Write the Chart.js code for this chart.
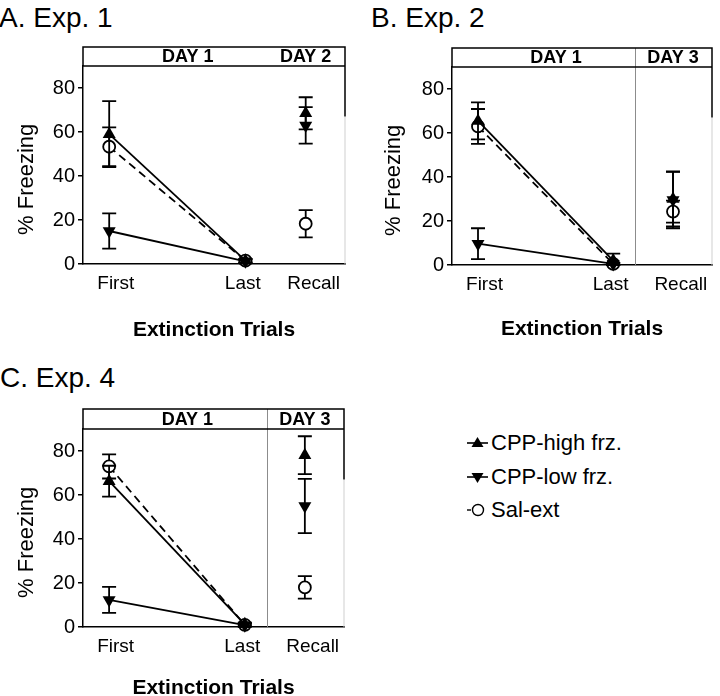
<!DOCTYPE html>
<html>
<head>
<meta charset="utf-8">
<script src="https://cdn.jsdelivr.net/npm/chart.js@4/dist/chart.umd.min.js"></script>
<style>
  html, body { margin: 0; padding: 0; background: #fff; }
  body { width: 720px; height: 696px; position: relative; overflow: hidden;
         font-family: "Liberation Sans", Arial, sans-serif; color: #000; }
  canvas { position: absolute; }
  .ptitle { position: absolute; font-size: 28px; line-height: 28px; white-space: nowrap; }
  .lrow { position: absolute; left: 466px; height: 22px; display: flex; align-items: flex-start;
          font-size: 22px; line-height: 22px; white-space: nowrap; }
  .lrow svg { width: 24px; height: 22px; margin-right: 1px; }
</style>
</head>
<body>
<div class="ptitle" style="left:-1px; top:4px;">A. Exp. 1</div>
<div class="ptitle" style="left:371px; top:4px;">B. Exp. 2</div>
<div class="ptitle" style="left:0px; top:364px;">C. Exp. 4</div>

<canvas id="cA" width="360" height="340" style="left:0px; top:0px;"></canvas>
<canvas id="cB" width="360" height="340" style="left:360px; top:0px;"></canvas>
<canvas id="cC" width="360" height="356" style="left:0px; top:340px;"></canvas>

<div class="lrow" style="top:432px;">
  <svg viewBox="0 0 24 22"><line x1="1" y1="11" x2="22" y2="11" stroke="#000" stroke-width="1.6"/><polygon points="11.5,5 17.5,15 5.5,15" fill="#000"/></svg>
  <span id="lg0"></span>
</div>
<div class="lrow" style="top:466px;">
  <svg viewBox="0 0 24 22"><line x1="1" y1="11" x2="22" y2="11" stroke="#000" stroke-width="1.6"/><polygon points="5.5,7 17.5,7 11.5,17" fill="#000"/></svg>
  <span id="lg1"></span>
</div>
<div class="lrow" style="top:499px;">
  <svg viewBox="0 0 24 22"><line x1="1" y1="11" x2="5" y2="11" stroke="#000" stroke-width="1.4"/><circle cx="12" cy="11" r="5.5" fill="#fff" stroke="#000" stroke-width="1.4"/></svg>
  <span id="lg2"></span>
</div>

<script>
// ---------------- data ----------------
const categories = ['First', 'Last', 'Recall'];
const seriesNames = ['CPP-high frz.', 'CPP-low frz.', 'Sal-ext'];
const yTicks = [0, 20, 40, 60, 80];
const yTitle = '% Freezing';
const xTitle = 'Extinction Trials';

// A. Exp. 1
const exp1Days = ['DAY 1', 'DAY 2'];
const exp1High = [59, 1.5, 68.5];
const exp1HighErr = [15, 0.8, 7.3];
const exp1Low = [15, 1.2, 63];
const exp1LowErr = [8, 0.8, 8.3];
const exp1Sal = [53.3, 1.5, 18.3];
const exp1SalErr = [8.8, 0.8, 6.2];

// B. Exp. 2
const exp2Days = ['DAY 1', 'DAY 3'];
const exp2High = [65.5, 2, 30];
const exp2HighErr = [8.4, 3.2, 12.5];
const exp2Low = [9.7, 0.5, 29.5];
const exp2LowErr = [7, 0.5, 12.8];
const exp2Sal = [63, 0.5, 24.3];
const exp2SalErr = [7.9, 0.5, 5];

// C. Exp. 4
const exp4Days = ['DAY 1', 'DAY 3'];
const exp4High = [66.3, 1.2, 78.1];
const exp4HighErr = [7, 0.8, 8.6];
const exp4Low = [12.3, 0.8, 55];
const exp4LowErr = [5.9, 0.6, 12.3];
const exp4Sal = [73, 1, 18];
const exp4SalErr = [5.5, 0.8, 5.1];

// ---------------- layout constants ----------------
const FONT = '"Liberation Sans", Arial, sans-serif';
const xPos = [1, 6.2, 8.5];        // category positions on a 0..10 axis
const tickPos = [1.25, 6.1, 8.8];  // label positions
const dayPos = [4.0, 8.5];

Chart.defaults.font.family = FONT;
Chart.defaults.color = '#000';

seriesNames.forEach((n, i) => document.getElementById('lg' + i).textContent = n);

const errPlugin = {
  id: 'errbars',
  beforeDatasetDraw(chart, args) {
    const ds = chart.data.datasets[args.index];
    if (!ds.errors) return;
    const {ctx, scales: {y}} = chart;
    ctx.save();
    ctx.strokeStyle = '#000';
    ctx.lineWidth = 1.8;
    args.meta.data.forEach((pt, j) => {
      const v = ds.data[j].y, e = ds.errors[j];
      const yt = y.getPixelForValue(v + e);
      const yb = y.getPixelForValue(Math.max(0, v - e));
      const cx = pt.x, hw = 7;
      ctx.beginPath();
      ctx.moveTo(cx, yt); ctx.lineTo(cx, yb);
      ctx.moveTo(cx - hw, yt); ctx.lineTo(cx + hw, yt);
      ctx.moveTo(cx - hw, yb); ctx.lineTo(cx + hw, yb);
      ctx.stroke();
    });
    ctx.restore();
  }
};

const boxPlugin = {
  id: 'box',
  afterDraw(chart, args, o) {
    const {ctx, chartArea: a, scales: {x, y}} = chart;
    const hTop = a.top - o.headerH;
    const yDark = y.getPixelForValue(o.rightDarkTo);
    ctx.save();
    // divider
    if (o.divider != null) {
      const dx = Math.round(x.getPixelForValue(o.divider)) + 0.5;
      ctx.strokeStyle = '#8c8c8c'; ctx.lineWidth = 1;
      ctx.beginPath(); ctx.moveTo(dx, hTop); ctx.lineTo(dx, a.bottom); ctx.stroke();
    }
    // faint lower part of right border
    ctx.strokeStyle = '#cfcfcf'; ctx.lineWidth = 1;
    ctx.beginPath(); ctx.moveTo(a.right, yDark); ctx.lineTo(a.right, a.bottom); ctx.stroke();
    // box / header
    ctx.strokeStyle = '#000'; ctx.lineWidth = 1.5;
    ctx.beginPath();
    ctx.moveTo(a.left, a.top); ctx.lineTo(a.left, hTop); ctx.lineTo(a.right, hTop); ctx.lineTo(a.right, yDark);
    ctx.moveTo(a.left, a.top); ctx.lineTo(a.right, a.top);
    ctx.stroke();
    ctx.fillStyle = '#000';
    ctx.textAlign = 'center'; ctx.textBaseline = 'middle';
    ctx.font = 'bold 18px ' + FONT;
    o.days.forEach((d, i) => ctx.fillText(d, x.getPixelForValue(dayPos[i]), hTop + o.headerH / 2 + 1));
    // axis titles
    ctx.font = 'bold 21px ' + FONT;
    ctx.fillText(xTitle, (a.left + a.right) / 2, a.bottom + o.xTitleOff);
    ctx.font = '22px ' + FONT;
    ctx.translate(o.yTitleX, y.getPixelForValue(38.5));
    ctx.rotate(-Math.PI / 2);
    ctx.fillText(yTitle, 0, 0);
    ctx.restore();
  }
};

function pts(vals) { return vals.map((v, i) => ({x: xPos[i], y: v})); }
const gap = c => c.p0DataIndex === 1 ? 'rgba(0,0,0,0)' : undefined;

function panel(id, c) {
  const datasets = [
    { label: seriesNames[0], data: pts(c.high), errors: c.highErr,
      borderColor: '#000', borderWidth: 1.8, pointStyle: 'triangle', pointRotation: 0,
      pointRadius: 7.5, pointBackgroundColor: '#000', pointBorderColor: '#000', pointBorderWidth: 0,
      segment: {borderColor: gap}, clip: false },
    { label: seriesNames[1], data: pts(c.low), errors: c.lowErr,
      borderColor: '#000', borderWidth: 1.8, pointStyle: 'triangle', pointRotation: 180,
      pointRadius: 7.5, pointBackgroundColor: '#000', pointBorderColor: '#000', pointBorderWidth: 0,
      segment: {borderColor: gap}, clip: false },
    { label: seriesNames[2], data: pts(c.sal), errors: c.salErr,
      borderColor: '#000', borderWidth: 1.8, borderDash: [8, 5], pointStyle: 'circle',
      pointRadius: 6, pointBackgroundColor: '#fff', pointBorderColor: '#000', pointBorderWidth: 1.8,
      segment: {borderColor: gap}, clip: false }
  ];
  return new Chart(document.getElementById(id), {
    type: 'line',
    data: { datasets },
    options: {
      responsive: false, maintainAspectRatio: false, animation: false,
      layout: { padding: { top: c.top, right: c.right, left: 0, bottom: 0 } },
      plugins: {
        legend: { display: false }, tooltip: { enabled: false },
        box: { headerH: c.headerH, days: c.days, divider: c.divider, rightDarkTo: 67,
               yTitleX: c.yTitleX, xTitleOff: c.xTitleOff }
      },
      scales: {
        x: {
          type: 'linear', min: 0, max: 10,
          afterBuildTicks: s => { s.ticks = tickPos.map(v => ({ value: v })); },
          ticks: { callback: (v, i) => categories[i], font: { size: 19 }, color: '#000',
                   padding: 8, maxRotation: 0, autoSkip: false },
          grid: { display: false, drawTicks: false },
          border: { display: true, color: '#000', width: 1.5 },
          afterFit: s => { s.height = c.xH; }
        },
        y: {
          min: 0, max: 90,
          afterBuildTicks: s => { s.ticks = yTicks.map(v => ({ value: v })); },
          ticks: { font: { size: 20 }, color: '#000', padding: 3 },
          grid: { display: true, drawOnChartArea: false, drawTicks: true, tickLength: 5,
                  color: '#000', lineWidth: 1.5 },
          border: { display: true, color: '#000', width: 1.5 },
          afterFit: s => { s.width = c.yW; }
        }
      }
    },
    plugins: [errPlugin, boxPlugin]
  });
}

panel('cA', { high: exp1High, highErr: exp1HighErr, low: exp1Low, lowErr: exp1LowErr,
  sal: exp1Sal, salErr: exp1SalErr, days: exp1Days, divider: null,
  top: 66, right: 15, xH: 76, yW: 83, headerH: 19, yTitleX: 27, xTitleOff: 66 });
panel('cB', { high: exp2High, highErr: exp2HighErr, low: exp2Low, lowErr: exp2LowErr,
  sal: exp2Sal, salErr: exp2SalErr, days: exp2Days, divider: 7.05,
  top: 67, right: 8, xH: 75, yW: 92, headerH: 19, yTitleX: 34, xTitleOff: 64 });
panel('cC', { high: exp4High, highErr: exp4HighErr, low: exp4Low, lowErr: exp4LowErr,
  sal: exp4Sal, salErr: exp4SalErr, days: exp4Days, divider: 7.05,
  top: 89, right: 16, xH: 69, yW: 83, headerH: 20, yTitleX: 27, xTitleOff: 61 });
</script>
</body>
</html>
